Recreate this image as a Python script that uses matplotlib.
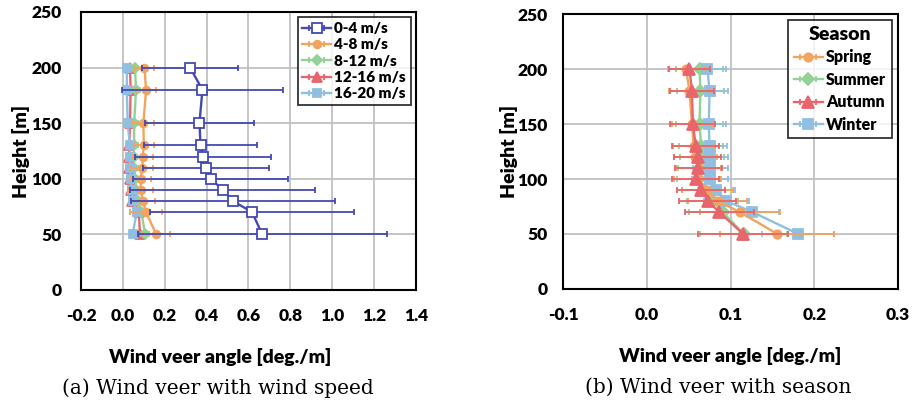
import numpy as np
import matplotlib
matplotlib.use("Agg")
import matplotlib.pyplot as plt

# heights [m]
heights = [50, 70, 80, 90, 100, 110, 120, 130, 150, 180, 200]

# (a) wind veer by wind speed bin [deg./m]
speed_labels = ["0-4 m/s", "4-8 m/s", "8-12 m/s", "12-16 m/s", "16-20 m/s"]
v_0_4 = [0.666, 0.617, 0.526, 0.478, 0.419, 0.398, 0.384, 0.371, 0.366, 0.380, 0.321]
e_0_4 = [0.594, 0.489, 0.486, 0.442, 0.371, 0.302, 0.325, 0.269, 0.262, 0.385, 0.230]
v_4_8 = [0.159, 0.111, 0.095, 0.086, 0.086, 0.093, 0.095, 0.100, 0.098, 0.111, 0.103]
e_4_8 = [0.067, 0.075, 0.059, 0.060, 0.048, 0.053, 0.050, 0.048, 0.053, 0.048, 0.048]
v_8_12 = [0.106, 0.089, 0.073, 0.063, 0.058, 0.054, 0.051, 0.054, 0.054, 0.063, 0.058]
e_8_12 = [0.020, 0.020, 0.018, 0.018, 0.016, 0.016, 0.016, 0.016, 0.016, 0.018, 0.016]
v_12_16 = [0.082, 0.076, 0.044, 0.037, 0.034, 0.029, 0.031, 0.031, 0.034, 0.037, 0.034]
e_12_16 = [0.015, 0.015, 0.012, 0.012, 0.012, 0.012, 0.012, 0.012, 0.012, 0.012, 0.012]
v_16_20 = [0.047, 0.066, 0.050, 0.042, 0.037, 0.034, 0.034, 0.034, 0.023, 0.019, 0.019]
e_16_20 = [0.012, 0.012, 0.010, 0.010, 0.010, 0.010, 0.010, 0.010, 0.010, 0.010, 0.010]

# (b) wind veer by season [deg./m]
season_labels = ["Spring", "Summer", "Autumn", "Winter"]
v_spring = [0.156, 0.111, 0.0845, 0.0725, 0.061, 0.062, 0.058, 0.056, 0.054, 0.051, 0.047]
e_spring = [0.068, 0.048, 0.035, 0.030, 0.028, 0.027, 0.026, 0.025, 0.024, 0.024, 0.022]
v_summer = [0.116, 0.0905, 0.0785, 0.068, 0.062, 0.063, 0.066, 0.065, 0.063, 0.064, 0.063]
e_summer = [0.052, 0.040, 0.030, 0.026, 0.026, 0.026, 0.026, 0.026, 0.028, 0.028, 0.028]
v_autumn = [0.115, 0.0865, 0.073, 0.065, 0.0586, 0.0614, 0.061, 0.0586, 0.055, 0.054, 0.051]
e_autumn = [0.054, 0.041, 0.034, 0.029, 0.028, 0.028, 0.028, 0.028, 0.027, 0.026, 0.025]
v_winter = [0.181, 0.126, 0.095, 0.083, 0.075, 0.076, 0.076, 0.075, 0.074, 0.075, 0.0725]
e_winter = [0.043, 0.032, 0.027, 0.022, 0.0215, 0.021, 0.021, 0.021, 0.021, 0.022, 0.022]

dark_blue = "#4449b3"
orange = "#f4a35c"
green = "#93d195"
red = "#e8656b"
light_blue = "#90bfe2"

sans = ["Lato", "DejaVu Sans"]
plt.rcParams["font.family"] = sans
plt.rcParams["font.weight"] = "heavy"

fig = plt.figure(figsize=(9.14, 4.03), dpi=100)
ax1 = fig.add_axes([0.0886, 0.2804, 0.3665, 0.690])
ax2 = fig.add_axes([0.616, 0.283, 0.3665, 0.682])


def series(ax, v, e, color, marker, label, ms=5, mfc=None, z=3):
    ax.errorbar(v, heights, xerr=e, color=color, marker=marker, ms=ms,
                mfc=mfc if mfc else color, mec=color, mew=1.3, lw=1.7,
                elinewidth=1.3, capsize=2.5, capthick=1.3, label=label, zorder=z)


series(ax1, v_0_4, e_0_4, dark_blue, "s", speed_labels[0], ms=7.5, mfc="white", z=6)
series(ax1, v_4_8, e_4_8, orange, "o", speed_labels[1], ms=5.5, z=5)
series(ax1, v_8_12, e_8_12, green, "D", speed_labels[2], ms=5, z=4)
series(ax1, v_12_16, e_12_16, red, "^", speed_labels[3], ms=6.5, z=3)
series(ax1, v_16_20, e_16_20, light_blue, "s", speed_labels[4], ms=5.5, z=4)

series(ax2, v_spring, e_spring, orange, "o", season_labels[0], ms=6, z=4)
series(ax2, v_summer, e_summer, green, "D", season_labels[1], ms=6, z=3)
series(ax2, v_autumn, e_autumn, red, "^", season_labels[2], ms=9, z=5)
series(ax2, v_winter, e_winter, light_blue, "s", season_labels[3], ms=6.5, z=3)

xt1 = np.arange(-0.2, 1.41, 0.2)
xt2 = np.arange(-0.1, 0.31, 0.1)
ax1.set_xlim(-0.2, 1.4)
ax1.set_xticks(xt1, [f"{t:.1f}" for t in xt1])
ax2.set_xlim(-0.1, 0.3)
ax2.set_xticks(xt2, [f"{t:.1f}" for t in xt2])

for ax in (ax1, ax2):
    ax.set_ylim(0, 250)
    ax.set_yticks(range(0, 251, 50))
    ax.grid(True, color="#c0c0c0", lw=1.3)
    ax.set_axisbelow(True)
    ax.tick_params(length=0, labelsize=12.5)
    ax.tick_params(axis="x", pad=13)
    for s in ax.spines.values():
        s.set_color("black")
        s.set_linewidth(1.5)
    ax.set_ylabel("Height [m]", fontsize=14, fontweight="heavy")
    ax.set_xlabel("Wind veer angle [deg./m]", fontsize=14, fontweight="heavy")

ax1.tick_params(axis="y", pad=14)
ax2.tick_params(axis="y", pad=11)
ax1.xaxis.set_label_coords(0.415, -0.21)
ax2.xaxis.set_label_coords(0.5, -0.21)
ax1.yaxis.set_label_coords(-0.152, 0.5)
ax2.yaxis.set_label_coords(-0.134, 0.5)

leg1 = ax1.legend(loc="upper right", prop={"size": 11, "weight": "heavy"},
                  frameon=True, fancybox=False, edgecolor="black",
                  handlelength=1.9, borderpad=0.3, labelspacing=0.22,
                  handletextpad=0.2, borderaxespad=0.35)
leg1.get_frame().set_linewidth(1.3)

leg2 = ax2.legend(loc="upper right", prop={"size": 11.5, "weight": "heavy"},
                  frameon=True, fancybox=False, edgecolor="black",
                  handlelength=1.8, borderpad=0.35, labelspacing=0.4,
                  handletextpad=0.2, borderaxespad=0.4,
                  title="Season", title_fontproperties={"weight": "heavy", "size": 14})
leg2.get_frame().set_linewidth(1.3)

serif = ["DejaVu Serif"]
fig.text(0.2385, 0.038, "(a) Wind veer with wind speed", ha="center", va="center",
         fontsize=14.5, family=serif, fontweight="normal")
fig.text(0.786, 0.038, "(b) Wind veer with season", ha="center", va="center",
         fontsize=14.5, family=serif, fontweight="normal")

fig.savefig("out.png", dpi=100)
